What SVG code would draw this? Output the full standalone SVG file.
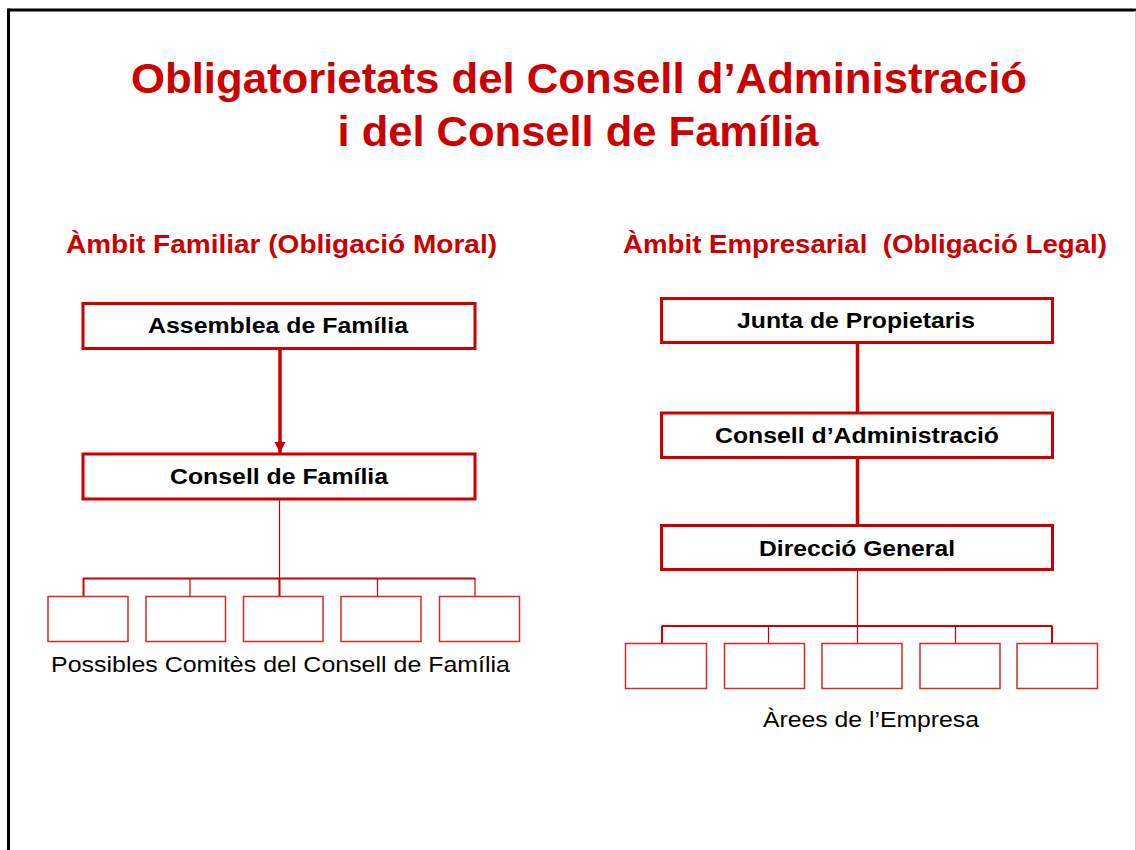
<svg xmlns="http://www.w3.org/2000/svg" width="1136" height="850" viewBox="0 0 1136 850">
<defs>
<style>
.title{font-family:"Liberation Sans",Arial,sans-serif;font-weight:bold;font-size:43px;fill:#cc0000;text-anchor:middle}
.head{font-family:"Liberation Sans",Arial,sans-serif;font-weight:bold;font-size:25px;fill:#cc0000;text-anchor:middle}
.lbl{font-family:"Liberation Sans",Arial,sans-serif;font-weight:bold;font-size:22.5px;fill:#000;text-anchor:middle}
.cap{font-family:"Liberation Sans",Arial,sans-serif;font-size:22px;fill:#000;text-anchor:middle}
.box{fill:#fff;stroke:#cc0000;stroke-width:3}
.sbox{fill:#fff;stroke:#d42a2a;stroke-width:1.5}
.thick{stroke:#cc0000;stroke-width:3.5;fill:none}
.thin{stroke:#cc0000;stroke-width:1.2;fill:none}
.bar{stroke:#cc0000;stroke-width:2;fill:none}
</style>
<marker id="arr" viewBox="0 0 10 10" refX="10" refY="5" markerWidth="3.2" markerHeight="3.2" orient="auto" markerUnits="strokeWidth">
<path d="M0,0 L10,5 L0,10 z" fill="#cc0000"/>
</marker>
</defs>
<rect width="1136" height="850" fill="#fff"/>
<g id="frame">
<line x1="8.5" y1="10" x2="1136" y2="10" stroke="#000" stroke-width="3"/>
<line x1="8.5" y1="8.5" x2="8.5" y2="850" stroke="#000" stroke-width="3"/>
<line x1="1135.5" y1="11" x2="1135.5" y2="850" stroke="#c8c8c8" stroke-width="1"/>
</g>
<g id="title">
<text class="title" x="579" y="93" textLength="896" lengthAdjust="spacingAndGlyphs">Obligatorietats del Consell d’Administració</text>
<text class="title" x="578" y="146" textLength="481" lengthAdjust="spacingAndGlyphs">i del Consell de Família</text>
</g>
<g id="headings">
<text class="head" x="281.5" y="253" textLength="431" lengthAdjust="spacingAndGlyphs">Àmbit Familiar (Obligació Moral)</text>
<text class="head" x="865" y="253" textLength="484" lengthAdjust="spacingAndGlyphs" xml:space="preserve">Àmbit Empresarial  (Obligació Legal)</text>
</g>
<g id="connectors">
<line class="thick" x1="280" y1="349" x2="280" y2="453" marker-end="url(#arr)"/>
<line class="thin" x1="279.5" y1="500" x2="279.5" y2="578"/>
<line class="bar" x1="83" y1="578.5" x2="475" y2="578.5"/>
<line class="bar" x1="83.5" y1="578" x2="83.5" y2="596"/>
<line class="thin" x1="190" y1="578" x2="190" y2="596"/>
<line class="bar" x1="279.5" y1="578" x2="279.5" y2="596"/>
<line class="thin" x1="377.5" y1="578" x2="377.5" y2="596"/>
<line class="thin" x1="475" y1="578" x2="475" y2="596"/>
<line class="thick" x1="857.5" y1="343" x2="857.5" y2="412"/>
<line class="thick" x1="857.5" y1="458" x2="857.5" y2="524"/>
<line class="thin" x1="857.5" y1="570" x2="857.5" y2="626"/>
<line class="bar" x1="661.5" y1="626" x2="1052.5" y2="626"/>
<line class="bar" x1="662" y1="626" x2="662" y2="643"/>
<line class="thin" x1="768.5" y1="626" x2="768.5" y2="643"/>
<line class="thin" x1="857.5" y1="626" x2="857.5" y2="643"/>
<line class="thin" x1="955.5" y1="626" x2="955.5" y2="643"/>
<line class="bar" x1="1052" y1="626" x2="1052" y2="643"/>
</g>
<g id="assemblea">
<rect class="box" x="83" y="303.5" width="392" height="45"/>
<text class="lbl" x="278" y="333" textLength="260" lengthAdjust="spacingAndGlyphs">Assemblea de Família</text>
</g>
<g id="consell-familia">
<rect class="box" x="83" y="454" width="392" height="45"/>
<text class="lbl" x="279" y="484" textLength="218" lengthAdjust="spacingAndGlyphs">Consell de Família</text>
</g>
<g id="comites">
<rect class="sbox" x="48" y="596.5" width="80" height="45"/>
<rect class="sbox" x="146" y="596.5" width="79.5" height="45"/>
<rect class="sbox" x="243.5" y="596.5" width="79.5" height="45"/>
<rect class="sbox" x="341" y="596.5" width="80" height="45"/>
<rect class="sbox" x="439.5" y="596.5" width="80" height="45"/>
<text class="cap" x="280.5" y="672" textLength="459" lengthAdjust="spacingAndGlyphs">Possibles Comitès del Consell de Família</text>
</g>
<g id="junta">
<rect class="box" x="661.5" y="298.5" width="391" height="44"/>
<text class="lbl" x="856" y="328" textLength="238" lengthAdjust="spacingAndGlyphs">Junta de Propietaris</text>
</g>
<g id="consell-admin">
<rect class="box" x="661.5" y="413" width="391" height="44.5"/>
<text class="lbl" x="857" y="443" textLength="284" lengthAdjust="spacingAndGlyphs">Consell d’Administració</text>
</g>
<g id="direccio">
<rect class="box" x="661.5" y="525.5" width="391" height="44"/>
<text class="lbl" x="857" y="556" textLength="196" lengthAdjust="spacingAndGlyphs">Direcció General</text>
</g>
<g id="arees">
<rect class="sbox" x="625.5" y="643.5" width="81" height="45"/>
<rect class="sbox" x="724.5" y="643.5" width="80" height="45"/>
<rect class="sbox" x="822" y="643.5" width="80" height="45"/>
<rect class="sbox" x="920" y="643.5" width="80" height="45"/>
<rect class="sbox" x="1017" y="643.5" width="80.5" height="45"/>
<text class="cap" x="871" y="727" textLength="216" lengthAdjust="spacingAndGlyphs">Àrees de l’Empresa</text>
</g>
</svg>
